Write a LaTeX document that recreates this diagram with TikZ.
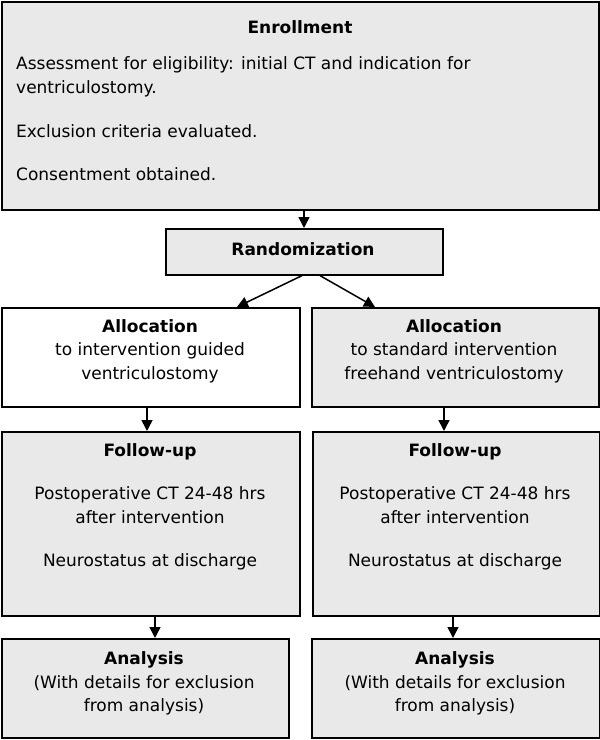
\documentclass[tikz,border=0pt]{standalone}
\usepackage{fontspec}
\setmainfont{DejaVu Sans}
\usetikzlibrary{arrows.meta}
\definecolor{boxgray}{HTML}{E9E9E9}
\begin{document}
\begin{tikzpicture}[x=1pt,y=-1pt,
  box/.style={draw=black,line width=1.6pt,fill=boxgray,inner sep=0pt,anchor=north west},
  wbox/.style={box,fill=white},
  txt/.style={anchor=base,inner sep=0pt,font=\fontsize{17}{20}\selectfont},
  ltxt/.style={txt,anchor=base west},
  arr/.style={line width=1.5pt,-{Triangle[length=11pt,width=11pt]}}]
\useasboundingbox (0,0) rectangle (600,740);
% boxes
\node[box,minimum width=597pt,minimum height=208pt] (enroll) at (1,1) {};
\node[box,minimum width=277pt,minimum height=46pt] (rand) at (165,228) {};
\node[wbox,minimum width=298pt,minimum height=99pt] (allocL) at (1,307) {};
\node[box,minimum width=287pt,minimum height=99pt] (allocR) at (311,307) {};
\node[box,minimum width=298pt,minimum height=184pt] (followL) at (1,431) {};
\node[box,minimum width=287pt,minimum height=184pt] (followR) at (312,431) {};
\node[box,minimum width=287pt,minimum height=99pt] (anaL) at (1,638) {};
\node[box,minimum width=288pt,minimum height=99pt] (anaR) at (311,638) {};
% texts
\node[txt] (t1) at (300,33) {\textbf{Enrollment}};
\node[ltxt] (t2) at (16,69) {Assessment for eligibility: initial CT and indication for};
\node[ltxt] (t3) at (16,93) {ventriculostomy.};
\node[ltxt] (t4) at (16,137) {Exclusion criteria evaluated.};
\node[ltxt] (t5) at (16,180) {Consentment obtained.};
\node[txt] (t6) at (303,255) {\textbf{Randomization}};
\node[txt] (t7) at (150,332) {\textbf{Allocation}};
\node[txt] (t8) at (150,355) {to intervention guided};
\node[txt] (t9) at (150,379) {ventriculostomy};
\node[txt] (t10) at (454,332) {\textbf{Allocation}};
\node[txt] (t11) at (454,355) {to standard intervention};
\node[txt] (t12) at (454,379) {freehand ventriculostomy};
\node[txt] (t13) at (150,456) {\textbf{Follow-up}};
\node[txt] (t14) at (150,499) {Postoperative CT 24-48 hrs};
\node[txt] (t15) at (150,523) {after intervention};
\node[txt] (t16) at (150,566) {Neurostatus at discharge};
\node[txt] (t17) at (455,456) {\textbf{Follow-up}};
\node[txt] (t18) at (455,499) {Postoperative CT 24-48 hrs};
\node[txt] (t19) at (455,523) {after intervention};
\node[txt] (t20) at (455,566) {Neurostatus at discharge};
\node[txt] (t21) at (144,664) {\textbf{Analysis}};
\node[txt] (t22) at (144,688) {(With details for exclusion};
\node[txt] (t23) at (144,711) {from analysis)};
\node[txt] (t24) at (455,664) {\textbf{Analysis}};
\node[txt] (t25) at (455,688) {(With details for exclusion};
\node[txt] (t26) at (455,711) {from analysis)};
% connector x positions
\coordinate (xa) at (304,0);
\coordinate (xb1) at (302,0);
\coordinate (xb2) at (237,0);
\coordinate (xc1) at (320,0);
\coordinate (xc2) at (375,0);
\coordinate (xd) at (147,0);
\coordinate (xe) at (444,0);
\coordinate (xf) at (155,0);
\coordinate (xg) at (453,0);
% connectors
\draw[arr] (enroll.south -| xa) -- (rand.north -| xa);
\draw[arr] (rand.south -| xb1) -- (allocL.north -| xb2);
\draw[arr] (rand.south -| xc1) -- (allocR.north -| xc2);
\draw[arr] (allocL.south -| xd) -- (followL.north -| xd);
\draw[arr] (allocR.south -| xe) -- (followR.north -| xe);
\draw[arr] (followL.south -| xf) -- (anaL.north -| xf);
\draw[arr] (followR.south -| xg) -- (anaR.north -| xg);
\end{tikzpicture}
\end{document}
